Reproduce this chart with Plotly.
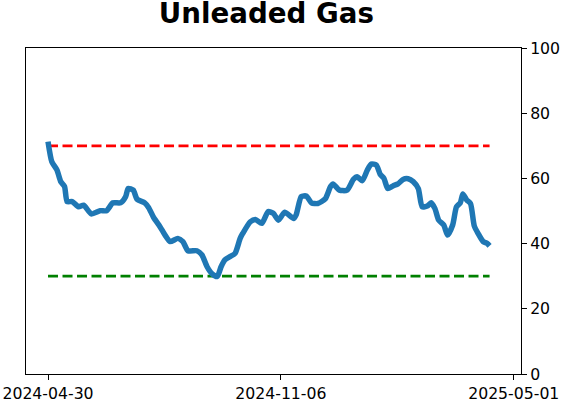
import plotly.graph_objects as go

# days since 2024-04-30 and the indicator reading on that day
day = [0, 3, 7, 10, 13, 15, 19, 24, 28, 34, 41, 46, 51, 57, 61, 63, 67, 70, 76, 79,
       83, 88, 92, 96, 102, 106, 110, 117, 121, 125, 129, 133, 136, 139, 143, 147, 151, 153, 159, 163,
       168, 173, 177, 181, 186, 193, 195, 199, 203, 207, 212, 218, 222, 224, 229, 235, 240, 243, 247, 251,
       254, 258, 261, 264, 267, 271, 275, 279, 283, 287, 291, 294, 298, 301, 304, 307, 311, 314, 318, 321,
       324, 326, 329, 332, 335, 338, 342, 345, 347]
value = [71.3, 65.1, 62.6, 59.0, 57.5, 52.9, 52.9, 51.3, 51.8, 49.1, 50.1, 50.1, 52.5, 52.5, 54.4, 56.9, 56.4, 53.6, 52.5, 51.1,
         48.0, 45.2, 42.6, 40.6, 41.6, 40.6, 37.8, 37.8, 36.5, 32.9, 30.7, 29.9, 32.9, 35.0, 36.0, 37.0, 41.6, 43.1, 46.7, 47.4,
         46.2, 49.8, 49.3, 47.2, 49.6, 47.7, 48.8, 54.4, 54.6, 52.5, 52.3, 53.8, 57.5, 58.3, 56.4, 56.4, 59.7, 60.5, 59.3, 62.6,
         64.4, 64.1, 61.3, 60.0, 56.9, 57.7, 58.3, 59.7, 59.9, 59.0, 56.9, 51.3, 51.5, 52.5, 50.8, 47.2, 45.7, 42.6, 45.7, 51.3,
         52.5, 55.2, 53.4, 52.3, 45.4, 43.1, 40.6, 40.1, 39.3]

upper_band = 70
lower_band = 30

tick_days = [0, 183, 366]
tick_labels = ["2024-04-30", "2024-11-06", "2025-05-01"]

fig = go.Figure()

fig.add_trace(go.Scatter(
    x=[day[0], day[-1]], y=[upper_band, upper_band], mode="lines",
    line=dict(color="#ff0000", width=2.8, dash="10px,4.5px"), hoverinfo="none"
))
fig.add_trace(go.Scatter(
    x=[day[0], day[-1]], y=[lower_band, lower_band], mode="lines",
    line=dict(color="#008000", width=2.8, dash="10px,4.5px"), hoverinfo="none"
))
fig.add_trace(go.Scatter(
    x=day, y=value, mode="lines",
    line=dict(color="#1f77b4", width=5.5, shape="spline", smoothing=0.6), hoverinfo="none"
))

axis_font = dict(family="DejaVu Sans", size=15.7, color="black")

fig.update_layout(
    width=562, height=402,
    margin=dict(l=26, r=41, t=48, b=28, autoexpand=False),
    plot_bgcolor="white", paper_bgcolor="white",
    showlegend=False,
    title=dict(text="<b>Unleaded Gas</b>", x=0.474, xanchor="center", y=0.966, yanchor="middle",
               font=dict(family="DejaVu Sans", size=27.7, color="black")),
    xaxis=dict(range=[-17.3, 371.7], tickvals=tick_days, ticktext=tick_labels, automargin=False,
               showgrid=False, zeroline=False, showline=True, linecolor="black", linewidth=1,
               mirror=True, ticks="outside", ticklen=5, tickcolor="black", tickfont=axis_font),
    yaxis=dict(range=[0, 100], tickvals=[0, 20, 40, 60, 80, 100], side="right", automargin=False,
               showgrid=False, zeroline=False, showline=True, linecolor="black", linewidth=1,
               mirror=True, ticks="outside", ticklen=5, tickcolor="black", tickfont=axis_font),
)

# the page's default body margin would shift the figure off the window
fig.write_html("out.html", config={"displayModeBar": False},
               post_script="document.body.style.margin='0';")
